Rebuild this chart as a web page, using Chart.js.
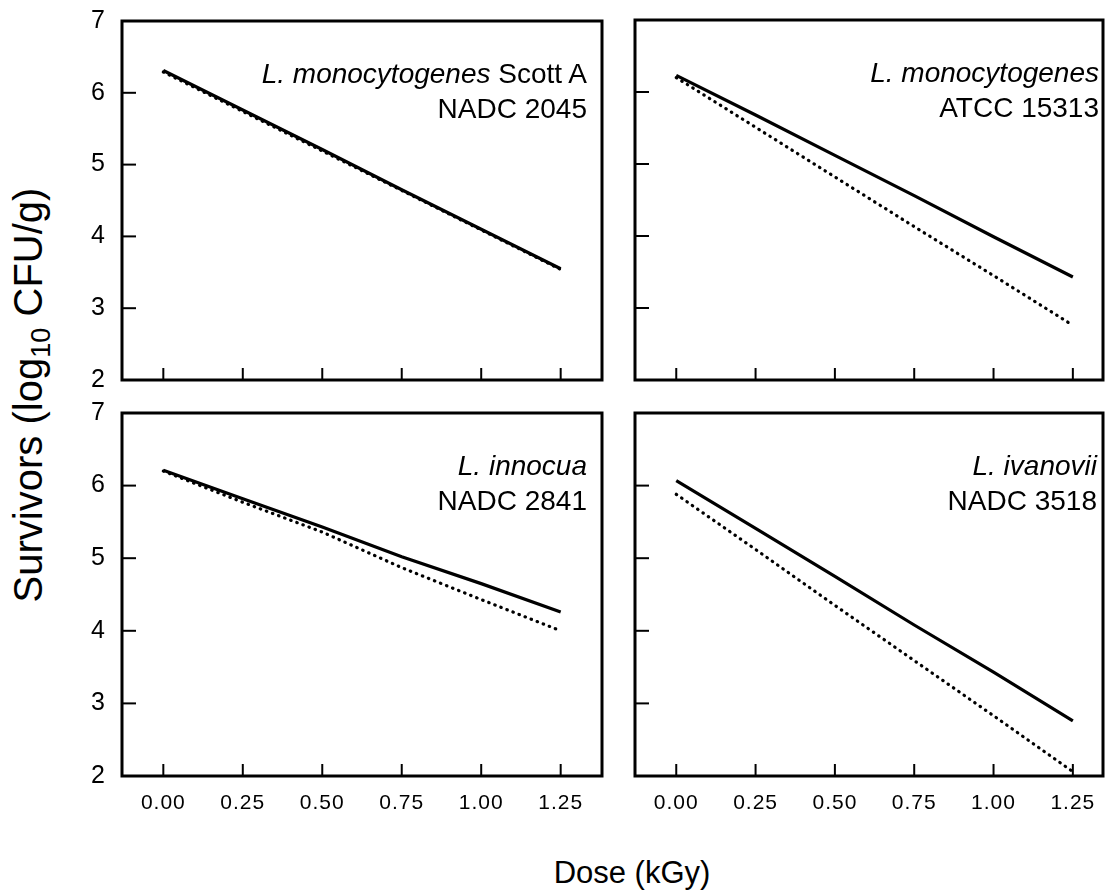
<!doctype html>
<html lang="en">
<head>
  <meta charset="UTF-8" />
  <title>Survivors vs dose</title>
  <script src="https://cdn.jsdelivr.net/npm/chart.js@4.4.4/dist/chart.umd.min.js"></script>
  <style>
    body {
      margin: 0;
      background: #fff;
      font-family: "Liberation Sans", Arial, sans-serif;
      color: #000;
    }
    .page {
      position: relative;
      width: 1119px;
      height: 894px;
      overflow: hidden;
    }
    canvas {
      position: absolute;
    }
    .note {
      position: absolute;
      text-align: right;
      font-size: 28px;
      line-height: 35px;
      white-space: nowrap;
    }
    .ytitle {
      position: absolute;
      left: 28px;
      top: 395px;
      transform: translate(-50%, -50%) rotate(-90deg);
      font-size: 40px;
      line-height: 40px;
      white-space: nowrap;
    }
    .ytitle sub {
      font-size: 0.68em;
      vertical-align: -0.28em;
      line-height: 0;
    }
    .xtitle {
      position: absolute;
      left: 632px;
      top: 857px;
      transform: translateX(-50%);
      font-size: 31px;
      line-height: 31px;
      white-space: nowrap;
    }
  </style>
</head>
<body>
  <div class="page" id="page">
    <div class="ytitle">Survivors (log<sub>10</sub> CFU/g)</div>
    <div class="xtitle">Dose (kGy)</div>
  </div>

  <script>
    const doses = [0, 0.25, 0.5, 0.75, 1.0, 1.25];
    const doseTicks = [0, 0.25, 0.5, 0.75, 1.0, 1.25];
    const logTicks = [2, 3, 4, 5, 6, 7];

    const scottSolid = [6.31, 5.76, 5.21, 4.65, 4.10, 3.55];
    const scottDotted = [6.29, 5.74, 5.19, 4.64, 4.09, 3.54];
    const atccSolid = [6.23, 5.68, 5.12, 4.56, 3.99, 3.43];
    const atccDotted = [6.20, 5.51, 4.82, 4.13, 3.45, 2.76];
    const innocuaSolid = [6.21, 5.82, 5.43, 5.02, 4.65, 4.26];
    const innocuaDotted = [6.20, 5.77, 5.36, 4.87, 4.43, 4.00];
    const ivanoviiSolid = [6.07, 5.41, 4.75, 4.08, 3.43, 2.76];
    const ivanoviiDotted = [5.88, 5.12, 4.35, 3.59, 2.83, 2.06];

    const FONT = '"Liberation Sans", Arial, sans-serif';

    // frame rectangles in page pixels
    const panels = [
      { left: 122, top: 21, right: 602, bottom: 380, xMax: 1.38, yLabels: true, xLabels: false,
        solid: scottSolid, dotted: scottDotted,
        italic: 'L. monocytogenes', rest: ' Scott A', line2: 'NADC 2045', inset: 15 },
      { left: 635, top: 20, right: 1103, bottom: 380, xMax: 1.345, yLabels: false, xLabels: false,
        solid: atccSolid, dotted: atccDotted,
        italic: 'L. monocytogenes', rest: '', line2: 'ATCC 15313', inset: 4 },
      { left: 122, top: 413, right: 602, bottom: 776, xMax: 1.38, yLabels: true, xLabels: true,
        solid: innocuaSolid, dotted: innocuaDotted,
        italic: 'L. innocua', rest: '', line2: 'NADC 2841', inset: 15 },
      { left: 635, top: 413, right: 1103, bottom: 776, xMax: 1.345, yLabels: false, xLabels: true,
        solid: ivanoviiSolid, dotted: ivanoviiDotted,
        italic: 'L. ivanovii', rest: '', line2: 'NADC 3518', inset: 6 }
    ];

    const frameTicks = {
      id: 'frameTicks',
      beforeDraw(chart) {
        chart.ctx.letterSpacing = '1px';
      },
      afterDraw(chart) {
        const { ctx, chartArea: a, scales } = chart;
        ctx.save();
        ctx.strokeStyle = '#000';
        ctx.lineWidth = 2;
        scales.y.ticks.forEach((t) => {
          if (t.value <= 2 || t.value >= 7) return;
          const y = scales.y.getPixelForValue(t.value);
          ctx.beginPath();
          ctx.moveTo(a.left, y);
          ctx.lineTo(a.left + 14, y);
          ctx.stroke();
        });
        scales.x.ticks.forEach((t) => {
          const x = scales.x.getPixelForValue(t.value);
          ctx.beginPath();
          ctx.moveTo(x, a.bottom);
          ctx.lineTo(x, a.bottom - 12);
          ctx.stroke();
        });
        ctx.lineWidth = 3;
        ctx.strokeRect(a.left, a.top, a.right - a.left, a.bottom - a.top);
        ctx.restore();
      }
    };

    function noOverflow(s) {
      s.paddingTop = 0;
      s.paddingBottom = 0;
      s.paddingLeft = 0;
      s.paddingRight = 0;
    }

    const page = document.getElementById('page');

    panels.forEach((p) => {
      const yAxisW = p.yLabels ? 62 : 0;
      const xAxisH = p.xLabels ? 50 : 0;
      const pad = 4;
      const padV = p.yLabels ? 16 : 4;
      const w = p.right - p.left;
      const h = p.bottom - p.top;

      const canvas = document.createElement('canvas');
      canvas.width = yAxisW + pad + w + pad;
      canvas.height = padV + h + xAxisH + padV;
      canvas.style.left = (p.left - yAxisW - pad) + 'px';
      canvas.style.top = (p.top - padV) + 'px';
      page.appendChild(canvas);

      new Chart(canvas, {
        type: 'line',
        data: {
          datasets: [
            {
              data: doses.map((d, i) => ({ x: d, y: p.solid[i] })),
              borderColor: '#000',
              borderWidth: 3.2,
              pointRadius: 0,
              tension: 0
            },
            {
              data: doses.map((d, i) => ({ x: d, y: p.dotted[i] })),
              borderColor: '#000',
              borderWidth: 3.2,
              borderDash: [0.5, 6],
              borderCapStyle: 'round',
              pointRadius: 0,
              tension: 0
            }
          ]
        },
        options: {
          responsive: false,
          animation: false,
          layout: { padding: { left: pad, right: pad, top: padV, bottom: padV } },
          plugins: { legend: { display: false }, tooltip: { enabled: false } },
          scales: {
            x: {
              type: 'linear',
              min: -0.13,
              max: p.xMax,
              afterBuildTicks: (s) => { s.ticks = doseTicks.map((v) => ({ value: v })); },
              afterFit: (s) => { s.height = xAxisH; noOverflow(s); },
              grid: { display: false, drawTicks: false },
              border: { display: false },
              ticks: {
                display: p.xLabels,
                autoSkip: false,
                maxRotation: 0,
                padding: 15,
                color: '#000',
                font: { family: FONT, size: 21 },
                callback: (v) => v.toFixed(2)
              }
            },
            y: {
              type: 'linear',
              min: 2,
              max: 7,
              afterBuildTicks: (s) => { s.ticks = logTicks.map((v) => ({ value: v })); },
              afterFit: (s) => { s.width = yAxisW; noOverflow(s); },
              grid: { display: false, drawTicks: false },
              border: { display: false },
              ticks: {
                display: p.yLabels,
                padding: 16,
                color: '#000',
                font: { family: FONT, size: 25 }
              }
            }
          }
        },
        plugins: [frameTicks]
      });

      const note = document.createElement('div');
      note.className = 'note';
      note.style.right = (1119 - (p.right - p.inset)) + 'px';
      note.style.top = (p.top + 35) + 'px';
      note.innerHTML = '<i>' + p.italic + '</i>' + p.rest + '<br>' + p.line2;
      page.appendChild(note);
    });
  </script>
</body>
</html>
